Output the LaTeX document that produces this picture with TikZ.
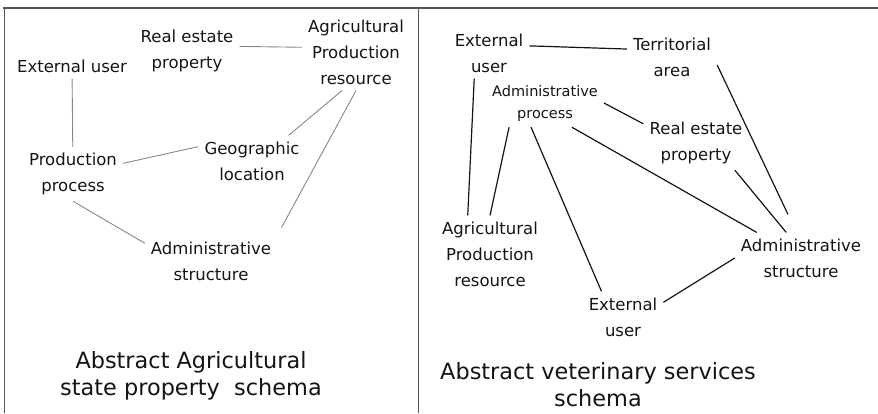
\documentclass[tikz,border=0pt]{standalone}
\usepackage{fontspec}
\setmainfont{DejaVu Sans}
\definecolor{framegray}{RGB}{85,85,85}
\definecolor{linkgray}{RGB}{135,135,135}
\definecolor{inkblack}{RGB}{20,20,20}
\tikzset{
  entity/.style={align=center, inner sep=6pt, text=inkblack, font=\fontsize{16.5}{26}\selectfont},
  smallentity/.style={entity, font=\fontsize{14.5}{22}\selectfont},
  schemaname/.style={align=center, text=inkblack, font=\fontsize{22.4}{27}\selectfont},
  graylink/.style={linkgray, line width=0.9pt},
  blacklink/.style={inkblack, line width=1.2pt}
}
\begin{document}
\begin{tikzpicture}[x=1pt,y=-1pt]
\useasboundingbox (0,0) rectangle (878,413);
% frame and divider
\draw[framegray, line width=1.4pt] (3,8) -- (878,8);
\draw[framegray, line width=1pt] (4,8) -- (4,413);
\draw[framegray, line width=1pt] (418,8) -- (418,413);
% left schema
\node[entity] (euL) at (72,66) {External user};
\node[entity] (repL) at (187,51) {Real estate\\property};
\node[entity] (aprL) at (356,52) {Agricultural\\Production\\resource};
\node[entity] (ppL) at (73,174) {Production\\process};
\node[entity] (geoL) at (252,161) {Geographic\\location};
\node[entity] (adsL) at (211,261) {Administrative\\structure};
\draw[graylink] (euL) -- (ppL);
\draw[graylink] (repL.5) -- (aprL.175);
\draw[graylink] (ppL.12) -- (geoL.165);
\draw[graylink] (aprL.250) -- (geoL.35);
\draw[graylink, shorten >=9pt] (aprL.south) -- (adsL.north east);
\draw[graylink] (ppL.south) -- (adsL.165);
\node[schemaname] (nameL) at (191,376) {Abstract Agricultural\\state property\ \ schema};
% right schema
\node[entity] (euR) at (489,53) {External\\user};
\node[entity] (terR) at (672,57) {Territorial\\area};
\node[smallentity] (apR) at (545,103) {Administrative\\process};
\node[entity] (repR) at (696,143) {Real estate\\property};
\node[entity] (aprR) at (490,254) {Agricultural\\Production\\resource};
\node[entity] (adsR) at (801,258) {Administrative\\structure};
\node[entity] (eu2R) at (623,317) {External\\user};
\draw[blacklink] (euR.10) -- (terR.170);
\draw[blacklink] (euR.240) -- (aprR.120);
\draw[blacklink] (apR.214) -- (aprR.north);
\draw[blacklink] (apR.east) -- (repR.160);
\draw[blacklink] (apR.240) -- (eu2R.130);
\draw[blacklink] (apR.318) -- (adsR.150);
\draw[blacklink, shorten >=20pt] (terR.-10) -- (adsR.100);
\draw[blacklink] (repR.-35) -- (adsR.120);
\draw[blacklink] (eu2R.20) -- (adsR.west);
\node[schemaname] (nameR) at (598,385) {Abstract veterinary services\\schema};
\end{tikzpicture}
\end{document}
